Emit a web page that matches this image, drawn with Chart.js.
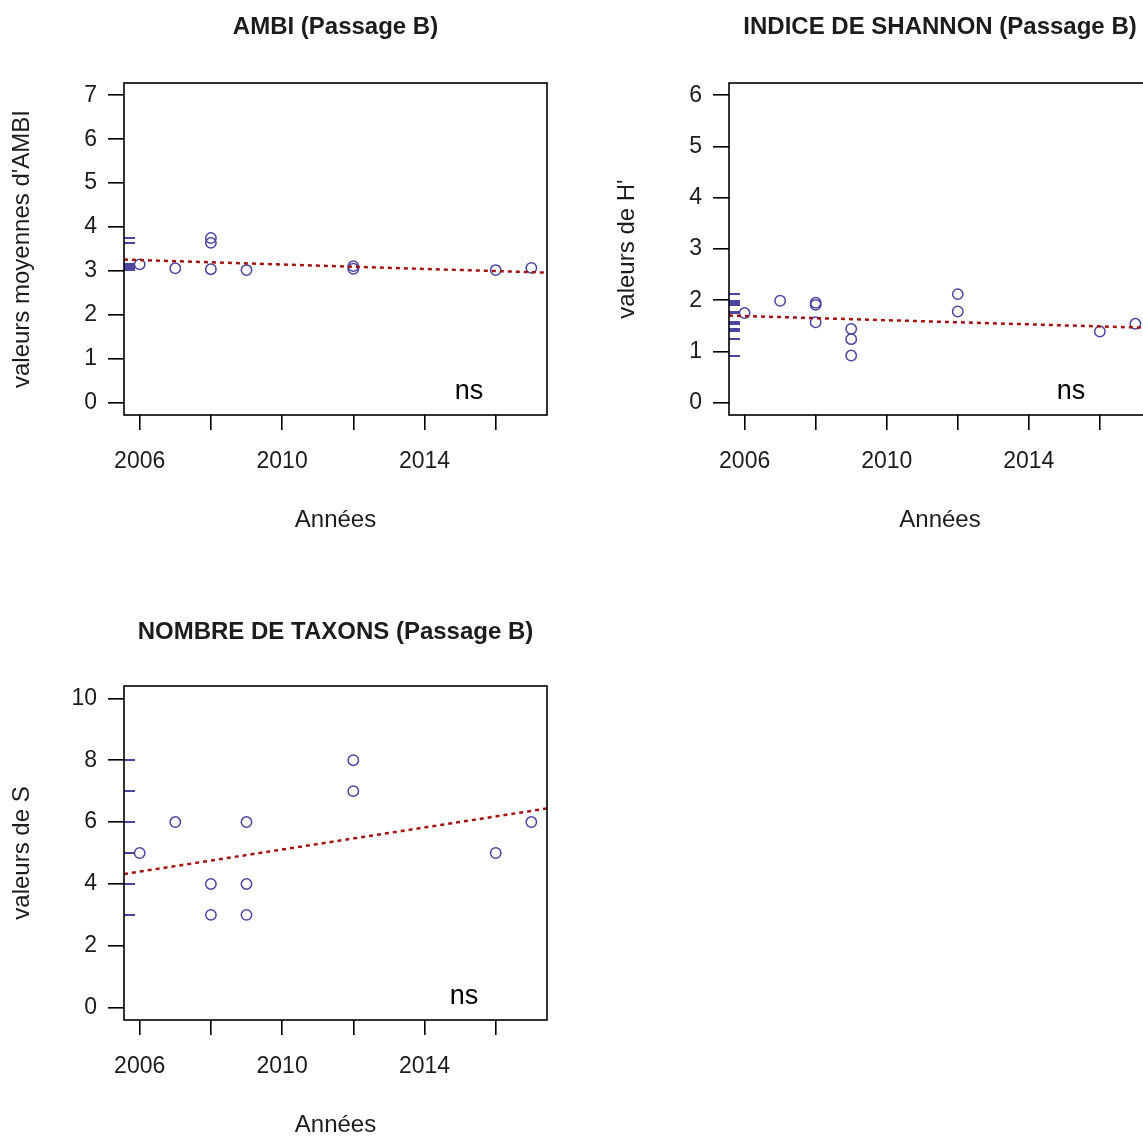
<!DOCTYPE html>
<html>
<head>
<meta charset="utf-8">
<script src="https://cdn.jsdelivr.net/npm/chart.js@4.4.1/dist/chart.umd.min.js"></script>
<style>
  html, body { margin: 0; padding: 0; background: #ffffff; overflow: hidden; width: 1143px; height: 1137px; }
  canvas { position: absolute; }
</style>
</head>
<body>
<canvas id="ambi" width="671" height="560" style="left:0px;top:0px"></canvas>
<canvas id="shannon" width="670" height="560" style="left:605px;top:0px"></canvas>
<canvas id="taxons" width="671" height="560" style="left:0px;top:603px"></canvas>
<script>
// ---- AMBI (Passage B) ----
const ambiYears  = [2006, 2007, 2008, 2008, 2008, 2009, 2012, 2012, 2016, 2017];
const ambiValues = [3.15, 3.06, 3.04, 3.64, 3.75, 3.02, 3.11, 3.05, 3.02, 3.07];
const ambiTrend  = [{x: 2005.56, y: 3.26}, {x: 2017.44, y: 2.96}];
const ambiYTicks = [0, 1, 2, 3, 4, 5, 6, 7];

// ---- Indice de Shannon (Passage B) ----
const shannonYears  = [2006, 2007, 2008, 2008, 2008, 2009, 2009, 2009, 2012, 2012, 2016, 2017];
const shannonValues = [1.75, 1.99, 1.95, 1.91, 1.57, 1.44, 1.24, 0.92, 2.12, 1.78, 1.39, 1.54];
const shannonTrend  = [{x: 2005.56, y: 1.70}, {x: 2017.44, y: 1.46}];
const shannonYTicks = [0, 1, 2, 3, 4, 5, 6];

// ---- Nombre de taxons (Passage B) ----
const taxonsYears  = [2006, 2007, 2008, 2008, 2009, 2009, 2009, 2012, 2012, 2016, 2017];
const taxonsValues = [5, 6, 4, 3, 6, 4, 3, 8, 7, 5, 6];
const taxonsTrend  = [{x: 2005.56, y: 4.32}, {x: 2017.44, y: 6.44}];
const taxonsYTicks = [0, 2, 4, 6, 8, 10];

// shared year axis
const xTicks  = [2006, 2008, 2010, 2012, 2014, 2016];
const xLabels = [2006, 2010, 2014];
const xRange  = [2005.56, 2017.44];

const FONT = "'Liberation Sans', Arial, Helvetica, sans-serif";
const POINT_COLOR = '#4a46a0';
const TREND_COLOR = '#a01414';
const TEXT_COLOR = '#1c1c1c';

// box around the plot region, rug of y values, and significance note
const framePlugin = {
  id: 'frame',
  beforeDatasetsDraw(chart, args, opts) {
    const {ctx, chartArea} = chart;
    const yScale = chart.scales.y;
    ctx.save();
    ctx.strokeStyle = POINT_COLOR;
    ctx.lineWidth = 2;
    ctx.beginPath();
    for (const v of opts.rug) {
      const py = Math.round(yScale.getPixelForValue(v));
      ctx.moveTo(chartArea.left, py);
      ctx.lineTo(chartArea.left + 11, py);
    }
    ctx.stroke();
    ctx.restore();
  },
  afterDraw(chart, args, opts) {
    const {ctx, chartArea} = chart;
    ctx.save();
    ctx.strokeStyle = '#000';
    ctx.lineWidth = 1.6;
    ctx.strokeRect(chartArea.left, chartArea.top, chartArea.right - chartArea.left, chartArea.bottom - chartArea.top);
    ctx.fillStyle = '#000';
    ctx.font = '27px ' + FONT;
    ctx.textAlign = 'center';
    ctx.textBaseline = 'middle';
    ctx.fillText(opts.note, chartArea.right - opts.noteDx, chartArea.bottom - 23);
    ctx.restore();
  }
};

function makePanel(id, title, yTitle, years, values, trend, yTicks, yRange, titlePad, xAxisHeight, xTitlePad, noteDx) {
  const points = years.map((yr, i) => ({x: yr, y: values[i]}));
  return new Chart(document.getElementById(id), {
    type: 'scatter',
    data: {
      datasets: [
        {
          type: 'line',
          data: trend,
          borderColor: TREND_COLOR,
          borderWidth: 2.5,
          borderDash: [4, 4],
          pointRadius: 0,
          fill: false
        },
        {
          data: points,
          pointStyle: 'circle',
          pointRadius: 5.2,
          pointBorderWidth: 1.5,
          pointBorderColor: POINT_COLOR,
          pointBackgroundColor: 'rgba(0,0,0,0)',
          showLine: false
        }
      ]
    },
    options: {
      responsive: false,
      animation: false,
      devicePixelRatio: 1,
      layout: { padding: 0 },
      plugins: {
        legend: { display: false },
        tooltip: { enabled: false },
        title: {
          display: true,
          text: title,
          color: TEXT_COLOR,
          font: { family: FONT, size: 24, weight: 'bold', lineHeight: 1 },
          padding: { top: titlePad[0], bottom: titlePad[1] }
        },
        frame: { rug: values, note: 'ns', noteDx: noteDx }
      },
      scales: {
        x: {
          type: 'linear',
          min: xRange[0],
          max: xRange[1],
          afterBuildTicks: s => { s.ticks = xTicks.map(v => ({value: v})); },
          afterFit: s => { s.height = xAxisHeight; },
          ticks: {
            autoSkip: false,
            maxRotation: 0,
            padding: 20,
            color: TEXT_COLOR,
            font: { family: FONT, size: 23, lineHeight: 1 },
            callback: v => xLabels.includes(v) ? String(v) : ''
          },
          grid: { drawOnChartArea: false, drawTicks: true, tickLength: 15, color: '#000', lineWidth: 1.6 },
          border: { display: false },
          title: {
            display: true,
            text: 'Années',
            color: TEXT_COLOR,
            font: { family: FONT, size: 24, lineHeight: 1 },
            padding: { top: 0, bottom: xTitlePad }
          }
        },
        y: {
          type: 'linear',
          min: yRange[0],
          max: yRange[1],
          afterBuildTicks: s => { s.ticks = yTicks.map(v => ({value: v})); },
          afterFit: s => { s.width = 124; },
          ticks: {
            padding: 11,
            color: TEXT_COLOR,
            font: { family: FONT, size: 23, lineHeight: 1 },
            callback: v => String(v)
          },
          grid: { drawOnChartArea: false, drawTicks: true, tickLength: 16, color: '#000', lineWidth: 1.6 },
          border: { display: false },
          title: {
            display: true,
            text: yTitle,
            color: TEXT_COLOR,
            font: { family: FONT, size: 24, lineHeight: 1 },
            padding: { top: 10, bottom: 0 }
          }
        },
        // empty right-hand margin, same width as the left axis, so the title sits over the plot
        margin: {
          type: 'linear',
          position: 'right',
          display: true,
          afterFit: s => { s.width = 124; },
          ticks: { display: false },
          grid: { display: false, drawTicks: false },
          border: { display: false },
          title: { display: false }
        }
      }
    },
    plugins: [framePlugin]
  });
}

makePanel('ambi', 'AMBI (Passage B)', "valeurs moyennes d'AMBI",
  ambiYears, ambiValues, ambiTrend, ambiYTicks, [-0.28, 7.28], [15, 44], 145, 28, 78);
makePanel('shannon', 'INDICE DE SHANNON (Passage B)', "valeurs de H'",
  shannonYears, shannonValues, shannonTrend, shannonYTicks, [-0.24, 6.24], [15, 44], 145, 28, 80);
makePanel('taxons', 'NOMBRE DE TAXONS (Passage B)', 'valeurs de S',
  taxonsYears, taxonsValues, taxonsTrend, taxonsYTicks, [-0.4, 10.4], [17, 42], 143, 26, 83);
</script>
</body>
</html>
